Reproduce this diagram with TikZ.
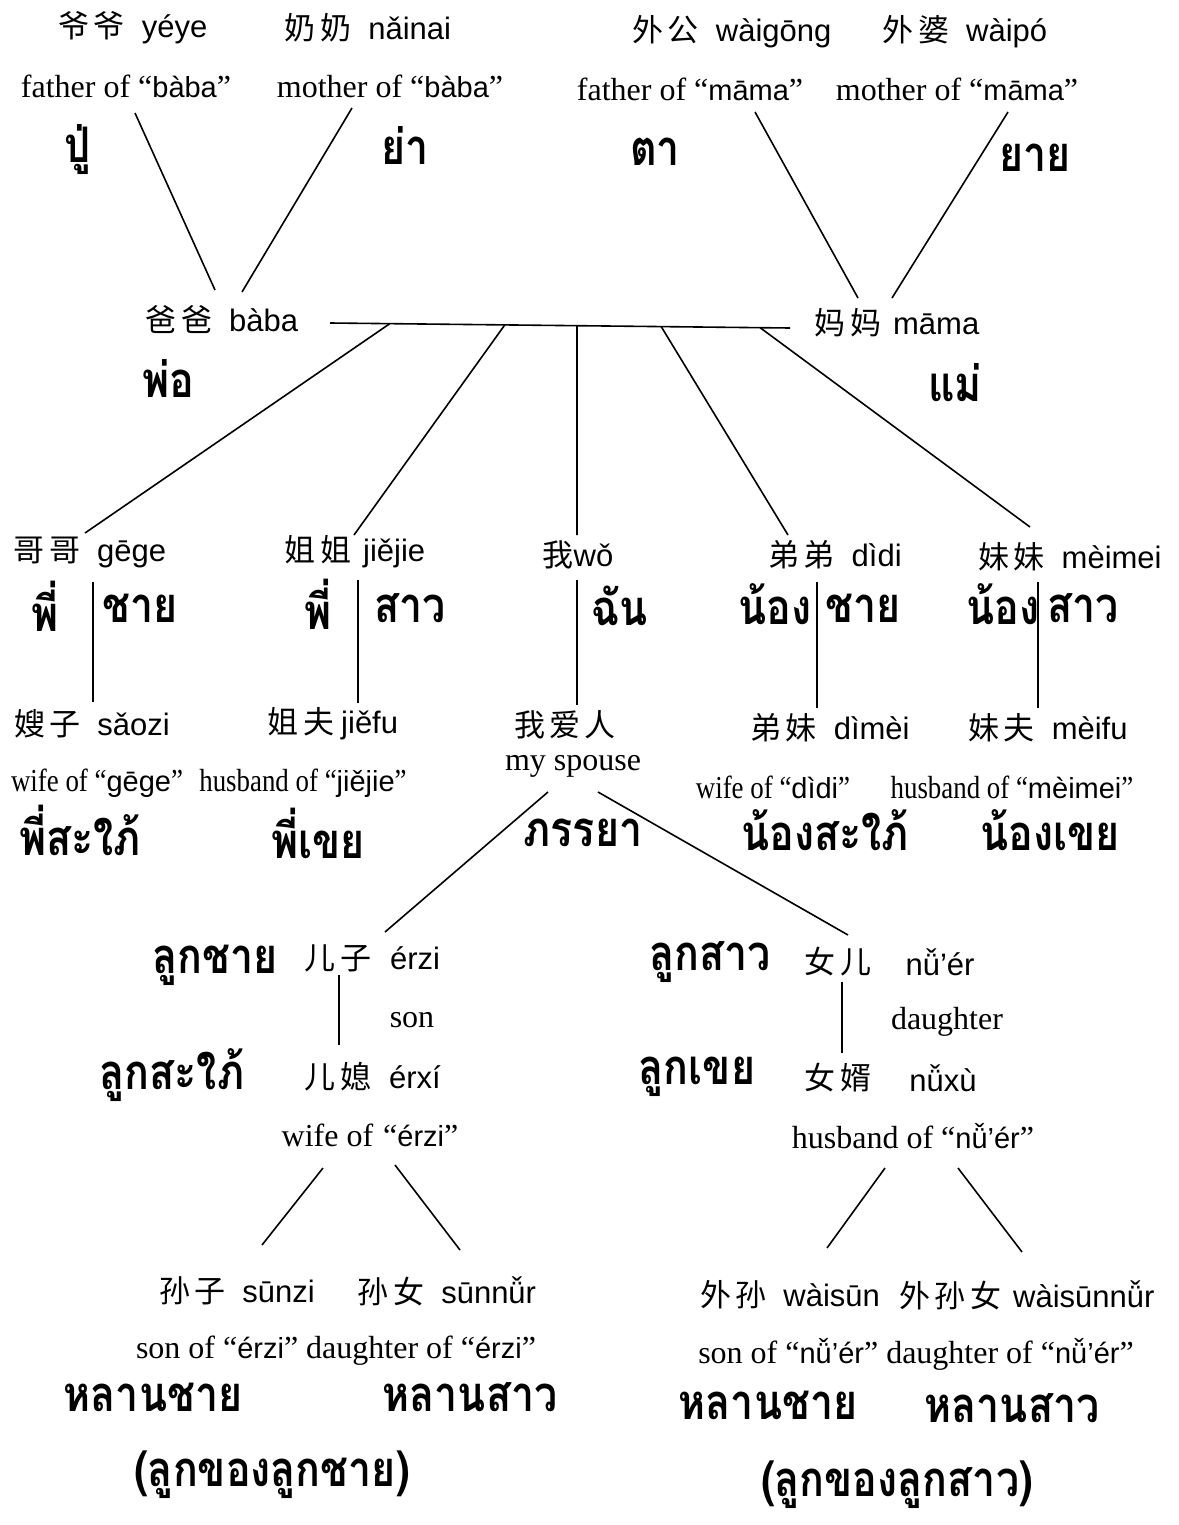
\documentclass[tikz,border=0pt]{standalone}
\usepackage{fontspec}
\setmainfont{Liberation Serif}
\newfontfamily\cjk[LetterSpace=14]{Noto Sans CJK SC}
\newfontfamily\py{Liberation Sans}
\newfontfamily\thai[Script=Thai,FakeStretch=0.84]{Loma}
\newfontfamily\cond[FakeStretch=0.84]{Liberation Serif}
\usetikzlibrary{calc}
\tikzset{
  lb/.style={inner sep=0pt, font=\fontsize{31}{34}\selectfont},
  en/.style={inner sep=0pt, font=\fontsize{32}{35}\selectfont},
  enc/.style={inner sep=0pt, font=\cond\fontsize{32}{35}\selectfont},
  th/.style={inner sep=0pt, font=\thai\bfseries\fontsize{49}{52}\selectfont},
  ln/.style={line width=1.6pt, black},
}
\newcommand{\gap}{\hspace{17pt}}
\newcommand{\qpy}[1]{{\py\fontsize{29}{32}\selectfont #1}}
\begin{document}
\begin{tikzpicture}[x=1pt,y=-1pt]
\useasboundingbox (0,0) rectangle (1178,1525);
% ---- grandparents
\node[lb] (yeye) at (133,28) {{\cjk 爷爷}\gap{\py yéye}};
\node[lb] (nainai) at (368,28) {{\cjk 奶奶}\gap{\py nǎinai}};
\node[lb] (waigong) at (732,32) {{\cjk 外公}\gap{\py wàigōng}};
\node[lb] (waipo) at (965,32) {{\cjk 外婆}\gap{\py wàipó}};
\node[en] (fb) at (126,86) {father of “\qpy{bàba}”};
\node[en] (mb) at (390,86) {mother of “\qpy{bàba}”};
\node[en] (fm) at (690,89) {father of “\qpy{māma}”};
\node[en] (mm) at (957,89) {mother of “\qpy{māma}”};
\node[th] (pu) at (78,150) {ปู่};
\node[th] (ya) at (405,145) {ย่า};
\node[th] (ta) at (655,152) {ตา};
\node[th] (yai) at (1035,158) {ยาย};
% ---- parents
\node[lb] (baba) at (222,320) {{\cjk 爸爸}\gap{\py bàba}};
\node[lb] (mama) at (897,323) {{\cjk 妈妈}\hspace{12pt}{\py māma}};
\node[th] (pho) at (168,378) {พ่อ};
\node[th] (mae) at (955,383) {แม่};
\coordinate (gpa1) at (135,113); \coordinate (gpa1e) at (215,290);
\coordinate (gma1) at (352,108); \coordinate (gma1e) at (242,292);
\coordinate (gpa2) at (755,112); \coordinate (gpa2e) at (858,298);
\coordinate (gma2) at (1008,112); \coordinate (gma2e) at (892,298);
\draw[ln] (gpa1) -- (gpa1e);
\draw[ln] (gma1) -- (gma1e);
\draw[ln] (gpa2) -- (gpa2e);
\draw[ln] (gma2) -- (gma2e);
\coordinate (hL) at (330,323); \coordinate (hR) at (790,328);
\draw[ln] (hL) -- (hR);
% ---- siblings
\node[lb] (gege) at (90,552) {{\cjk 哥哥}\gap{\py gēge}};
\node[lb] (jiejie) at (355,552) {{\cjk 姐姐}\hspace{12pt}{\py jiějie}};
\node[lb] (wo) at (578,555) {{\cjk 我}{\py wǒ}};
\node[lb] (didi) at (835,555) {{\cjk 弟弟}\gap{\py dìdi}};
\node[lb] (meimei) at (1070,557) {{\cjk 妹妹}\gap{\py mèimei}};
\coordinate (b1) at ($(hL)!0.13!(hR)$);  \coordinate (b1e) at (85,533);
\coordinate (b2) at ($(hL)!0.38!(hR)$);  \coordinate (b2e) at (354,535);
\coordinate (b3) at ($(hL)!0.537!(hR)$); \coordinate (b3e) at (577,535);
\coordinate (b4) at ($(hL)!0.72!(hR)$);  \coordinate (b4e) at (788,535);
\coordinate (b5) at ($(hL)!0.935!(hR)$); \coordinate (b5e) at (1030,527);
\draw[ln] (b1) -- (b1e);
\draw[ln] (b2) -- (b2e);
\draw[ln] (b3) -- (b3e);
\draw[ln] (b4) -- (b4e);
\draw[ln] (b5) -- (b5e);
\node[th] (phi1) at (45,606) {พี่};
\node[th] (chai1) at (140,608) {ชาย};
\node[th] (phi2) at (318,604) {พี่};
\node[th] (sao1) at (410,608) {สาว};
\node[th] (chan) at (620,606) {ฉัน};
\node[th] (nong1) at (775,604) {น้อง};
\node[th] (chai2) at (863,608) {ชาย};
\node[th] (nong2) at (1003,604) {น้อง};
\node[th] (sao2) at (1083,608) {สาว};
\coordinate (v1a) at (93,582);  \coordinate (v1b) at (93,702);
\coordinate (v2a) at (358,580); \coordinate (v2b) at (358,703);
\coordinate (v3a) at (577,580); \coordinate (v3b) at (577,705);
\coordinate (v4a) at (817,582); \coordinate (v4b) at (817,708);
\coordinate (v5a) at (1038,582); \coordinate (v5b) at (1038,708);
\draw[ln] (v1a) -- (v1b);
\draw[ln] (v2a) -- (v2b);
\draw[ln] (v3a) -- (v3b);
\draw[ln] (v4a) -- (v4b);
\draw[ln] (v5a) -- (v5b);
% ---- spouses of siblings
\node[lb] (saozi) at (92,724) {{\cjk 嫂子}\gap{\py sǎozi}};
\node[lb] (jiefu) at (333,724) {{\cjk 姐夫}\hspace{7pt}{\py jiěfu}};
\node[lb] (airen) at (565,725) {{\cjk 我爱人}};
\node[en] (spouse) at (573,766) {my spouse};
\node[lb] (dimei) at (830,728) {{\cjk 弟妹}\gap{\py dìmèi}};
\node[lb] (meifu) at (1048,728) {{\cjk 妹夫}\gap{\py mèifu}};
\node[enc] (wg) at (97,783) {wife of “\qpy{gēge}”};
\node[enc] (hj) at (303,783) {husband of “\qpy{jiějie}”};
\node[enc] (wd) at (773,787) {wife of “\qpy{dìdi}”};
\node[enc] (hm) at (1012,787) {husband of “\qpy{mèimei}”};
\node[th] (phisaphai) at (80,830) {พี่สะใภ้};
\node[th] (phikhoei) at (318,833) {พี่เขย};
\node[th] (phanraya) at (583,833) {ภรรยา};
\node[th] (nongsaphai) at (825,830) {น้องสะใภ้};
\node[th] (nongkhoei) at (1050,830) {น้องเขย};
\coordinate (s1) at (548,792); \coordinate (s1e) at (385,932);
\coordinate (s2) at (598,792); \coordinate (s2e) at (848,935);
\draw[ln] (s1) -- (s1e);
\draw[ln] (s2) -- (s2e);
% ---- children
\node[th] (lukchai) at (215,965) {ลูกชาย};
\node[lb] (erzi) at (338,958) {{\cjk 儿子}};
\node[lb] (erzipy) at (415,958) {{\py érzi}};
\node[en] (son) at (412,1020) {son};
\node[th] (luksaphai) at (172,1075) {ลูกสะใภ้};
\node[lb] (erxi) at (338,1077) {{\cjk 儿媳}};
\node[lb] (erxipy) at (415,1077) {{\py érxí}};
\node[en] (wez) at (370,1135) {wife of\hspace{10pt}“\qpy{érzi}”};
\coordinate (c1a) at (339,975); \coordinate (c1b) at (339,1045);
\draw[ln] (c1a) -- (c1b);
\node[th] (luksao) at (710,962) {ลูกสาว};
\node[lb] (nuer) at (838,962) {{\cjk 女儿}};
\node[lb] (nuerpy) at (940,962) {{\py nǚ’ér}};
\node[en] (daughter) at (947,1022) {daughter};
\node[th] (lukkhoei) at (697,1077) {ลูกเขย};
\node[lb] (nuxu) at (838,1078) {{\cjk 女婿}};
\node[lb] (nuxupy) at (943,1078) {{\py nǚxù}};
\node[en] (hn) at (913,1136) {husband of “\qpy{nǚ’ér}”};
\coordinate (c2a) at (842,982); \coordinate (c2b) at (842,1053);
\draw[ln] (c2a) -- (c2b);
\coordinate (g1) at (323,1168); \coordinate (g1e) at (262,1245);
\coordinate (g2) at (395,1165); \coordinate (g2e) at (460,1250);
\coordinate (g3) at (885,1168); \coordinate (g3e) at (827,1248);
\coordinate (g4) at (958,1168); \coordinate (g4e) at (1022,1252);
\draw[ln] (g1) -- (g1e);
\draw[ln] (g2) -- (g2e);
\draw[ln] (g3) -- (g3e);
\draw[ln] (g4) -- (g4e);
% ---- grandchildren
\node[lb] (sunzi) at (237,1291) {{\cjk 孙子}\gap{\py sūnzi}};
\node[lb] (sunnu) at (447,1291) {{\cjk 孙女}\gap{\py sūnnǚr}};
\node[en] (soez) at (336,1351) {son of “\qpy{érzi}” daughter of\hspace{8pt}“\qpy{érzi}”};
\node[th] (lanchai1) at (153,1397) {หลานชาย};
\node[th] (lansao1) at (470,1397) {หลานสาว};
\node[th] (note1) at (272,1475) {(ลูกของลูกชาย)};
\node[lb] (waisun) at (790,1295) {{\cjk 外孙}\gap{\py wàisūn}};
\node[lb] (waisunnu) at (1027,1295) {{\cjk 外孙女}\hspace{12pt}{\py wàisūnnǚr}};
\node[en] (son2) at (916,1354) {son of “\qpy{nǚ’ér}” daughter of\hspace{8pt}“\qpy{nǚ’ér}”};
\node[th] (lanchai2) at (768,1405) {หลานชาย};
\node[th] (lansao2) at (1012,1408) {หลานสาว};
\node[th] (note2) at (897,1485) {(ลูกของลูกสาว)};
\end{tikzpicture}
\end{document}
